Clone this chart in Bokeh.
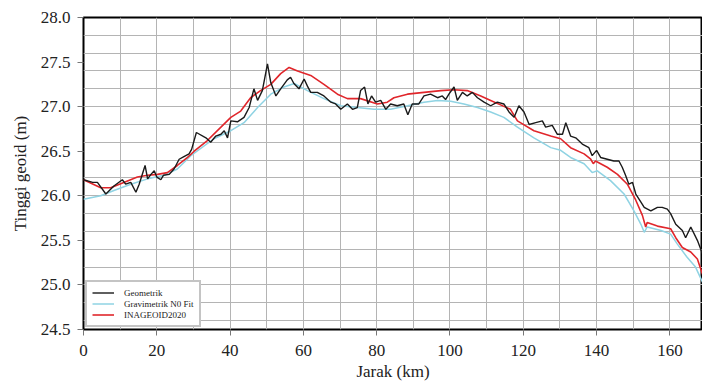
from bokeh.plotting import figure
from bokeh.models import (FixedTicker, PrintfTickFormatter, Legend, LegendItem, Range1d)
from bokeh.embed import file_html
from bokeh.resources import INLINE

# ---- data (km, m) ----
geo_km = [0, 2.5, 3.8, 6.1, 8.3, 10.6, 11.5, 12.9, 14.3, 15.2, 16.8, 17.5, 18.4, 19.3,
          20.0, 21.1, 21.8, 23.4, 24.7, 26.1, 27.4, 28.8, 29.5, 30.8, 33.4, 34.7, 36.1,
          37.5, 38.4, 39.3, 40.2, 42.0, 43.8, 45.2, 46.5, 47.5, 48.8, 50.2, 51.1, 52.5,
          53.8, 55.6, 56.5, 57.4, 58.8, 60.2, 61.1, 62.0, 63.8, 65.6, 67.5, 68.8, 70.2,
          72.0, 73.4, 74.7, 75.6, 76.7, 77.6, 78.6, 79.7, 81.1, 82.5, 83.8, 85.6, 87.4,
          88.5, 89.7, 91.5, 92.9, 94.7, 96.6, 97.9, 98.8, 99.7, 101.1, 102.0, 103.4,
          104.7, 106.1, 107.5, 109.3, 111.1, 112.9, 114.7, 116.1, 117.5, 118.8, 120.2,
          121.6, 123.4, 125.2, 126.1, 127.9, 129.3, 130.7, 131.6, 132.9, 134.3, 136.1,
          137.9, 138.8, 140.0, 141.1, 142.9, 144.7, 146.1, 147.0, 147.9, 148.8, 149.8,
          150.7, 152.1, 153.0, 154.8, 156.6, 157.9, 159.3, 160.2, 161.6, 163.4, 164.3,
          165.7, 167.5, 168.9]
geo_n = [26.18, 26.15, 26.15, 26.02, 26.11, 26.18, 26.13, 26.15, 26.04, 26.13, 26.34,
         26.19, 26.24, 26.28, 26.21, 26.18, 26.23, 26.24, 26.30, 26.41, 26.44, 26.47,
         26.52, 26.71, 26.65, 26.60, 26.67, 26.69, 26.73, 26.65, 26.84, 26.83, 26.88,
         26.99, 27.20, 27.07, 27.18, 27.48, 27.27, 27.12, 27.20, 27.30, 27.33, 27.26,
         27.20, 27.31, 27.23, 27.16, 27.16, 27.12, 27.05, 27.03, 26.97, 27.03, 26.97,
         26.99, 27.18, 27.22, 27.03, 27.12, 27.05, 27.07, 26.97, 27.03, 27.01, 27.03,
         26.91, 27.03, 27.03, 27.12, 27.14, 27.10, 27.12, 27.08, 27.14, 27.22, 27.07,
         27.16, 27.12, 27.16, 27.10, 27.05, 27.01, 27.05, 27.03, 26.94, 26.88, 27.01,
         26.94, 26.80, 26.82, 26.84, 26.77, 26.79, 26.69, 26.69, 26.82, 26.67, 26.65,
         26.58, 26.54, 26.45, 26.51, 26.43, 26.41, 26.39, 26.39, 26.32, 26.23, 26.13,
         26.15, 26.02, 25.93, 25.87, 25.83, 25.87, 25.87, 25.85, 25.80, 25.68, 25.61,
         25.53, 25.65, 25.50, 25.35]

grav_km = [0, 4.7, 8.3, 12.9, 17.5, 22.0, 25.6, 29.3, 35.6, 40.2, 43.8, 47.5, 51.1, 54.7,
           57.5, 61.1, 65.6, 70.2, 74.7, 79.3, 83.8, 88.4, 92.9, 96.6, 100.2, 103.8,
           107.5, 111.1, 114.7, 118.4, 122.9, 127.5, 130.2, 132.9, 136.6, 138.8, 140.2,
           143.8, 147.5, 150.2, 152.1, 153.0, 153.8, 157.6, 160.2, 162.0, 164.7, 167.0,
           168.9]
grav_n = [25.96, 26.00, 26.06, 26.13, 26.19, 26.23, 26.30, 26.45, 26.64, 26.73, 26.82,
          26.99, 27.14, 27.22, 27.26, 27.18, 27.09, 27.01, 26.99, 26.97, 26.97, 27.01,
          27.05, 27.07, 27.06, 27.03, 26.99, 26.94, 26.88, 26.77, 26.65, 26.54, 26.51,
          26.43, 26.36, 26.26, 26.28, 26.17, 26.02, 25.83, 25.68, 25.59, 25.65, 25.61,
          25.57, 25.46, 25.31, 25.20, 25.03]

ina_km = [0, 4.7, 7.4, 11.0, 14.7, 17.5, 20.2, 22.9, 25.6, 28.4, 30.2, 33.8, 37.5, 40.2,
          42.9, 45.6, 48.3, 51.1, 53.8, 56.1, 58.4, 62.0, 65.6, 69.3, 72.0, 75.6, 80.2,
          82.9, 84.7, 88.4, 92.9, 97.5, 101.1, 104.7, 108.4, 111.1, 113.8, 116.5, 118.4,
          122.9, 127.5, 130.2, 132.9, 136.6, 138.4, 139.1, 139.7, 142.9, 145.7, 148.4,
          150.7, 152.5, 153.4, 153.8, 156.6, 160.2, 161.6, 163.4, 165.7, 167.5, 168.9]
ina_n = [26.18, 26.09, 26.09, 26.15, 26.21, 26.23, 26.24, 26.26, 26.34, 26.43, 26.50,
         26.62, 26.77, 26.88, 26.95, 27.10, 27.18, 27.25, 27.37, 27.44, 27.40, 27.35,
         27.25, 27.14, 27.09, 27.09, 27.03, 27.05, 27.10, 27.14, 27.16, 27.18, 27.19,
         27.18, 27.12, 27.07, 27.02, 26.97, 26.84, 26.73, 26.67, 26.64, 26.54, 26.47,
         26.41, 26.36, 26.39, 26.32, 26.24, 26.13, 25.95, 25.78, 25.65, 25.70, 25.66,
         25.63, 25.53, 25.42, 25.37, 25.29, 25.12]

x_ticks = [0, 20, 40, 60, 80, 100, 120, 140, 160]
y_ticks = [24.5, 25.0, 25.5, 26.0, 26.5, 27.0, 27.5, 28.0]
x_grid = [10 * i for i in range(17)]
y_grid = [round(24.6 + 0.2 * i, 1) for i in range(17)]

FONT = "Liberation Serif"

p = figure(width=702, height=383, output_backend="svg", toolbar_location=None,
           x_range=Range1d(0, 168.9), y_range=Range1d(24.5, 28.0),
           min_border_left=83, min_border_right=0, min_border_top=17,
           min_border_bottom=54, background_fill_color="white")

p.outline_line_color = "black"
p.outline_line_width = 2

p.xgrid.ticker = FixedTicker(ticks=x_grid)
p.ygrid.ticker = FixedTicker(ticks=y_grid)
for g in (p.xgrid, p.ygrid):
    g.grid_line_color = "#b4b4b4"
    g.grid_line_width = 1

for ax in (p.xaxis, p.yaxis):
    ax.axis_line_color = None
    ax.major_tick_in = 0
    ax.major_tick_out = 6
    ax.minor_tick_line_color = None
    ax.major_tick_line_color = "#777777"
    ax.major_label_text_font = FONT
    ax.major_label_text_font_size = "17px"
    ax.major_label_text_color = "#222222"
    ax.axis_label_text_font = FONT
    ax.axis_label_text_font_size = "17px"
    ax.axis_label_text_font_style = "normal"
    ax.axis_label_text_color = "#222222"

p.xaxis.ticker = FixedTicker(ticks=x_ticks)
p.yaxis.ticker = FixedTicker(ticks=y_ticks)
p.yaxis.formatter = PrintfTickFormatter(format="%.1f")
p.xaxis.axis_label = "Jarak (km)"
p.yaxis.axis_label = "Tinggi geoid (m)"
p.xaxis.major_label_standoff = 9
p.xaxis.axis_label_standoff = 3
p.yaxis.major_label_standoff = 7
p.yaxis.axis_label_standoff = 8

r_grav = p.line(grav_km, grav_n, line_color="#8fd3e3", line_width=1.5)
r_ina = p.line(ina_km, ina_n, line_color="#e0262b", line_width=1.6)
r_geo = p.line(geo_km, geo_n, line_color="#1a1a1a", line_width=1.4)

legend = Legend(items=[LegendItem(label="Geometrik", renderers=[r_geo]),
                       LegendItem(label="Gravimetrik N0 Fit", renderers=[r_grav]),
                       LegendItem(label="INAGEOID2020", renderers=[r_ina])],
                location="bottom_left", margin=2, padding=5, spacing=0,
                label_text_font=FONT, label_text_font_size="9px",
                label_text_color="#222222", label_height=11, glyph_height=11,
                glyph_width=22, label_standoff=10,
                border_line_color="#8a8a8a", border_line_width=2,
                background_fill_color="white", background_fill_alpha=1.0)
p.add_layout(legend, "center")

open("out.html", "w").write(file_html(p, INLINE))
